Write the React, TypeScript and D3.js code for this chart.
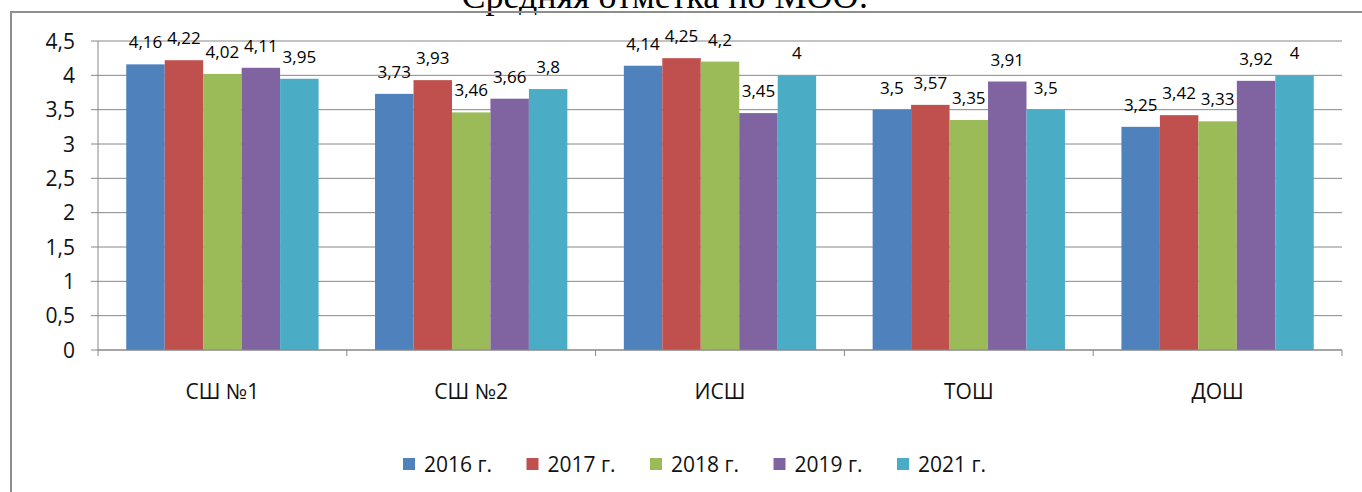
import React from "react";
import * as d3 from "d3";

const schools = ["СШ №1", "СШ №2", "ИСШ", "ТОШ", "ДОШ"];
const years = ["2016 г.", "2017 г.", "2018 г.", "2019 г.", "2021 г."];
const y2016 = [4.16, 3.73, 4.14, 3.5, 3.25];
const y2017 = [4.22, 3.93, 4.25, 3.57, 3.42];
const y2018 = [4.02, 3.46, 4.2, 3.35, 3.33];
const y2019 = [4.11, 3.66, 3.45, 3.91, 3.92];
const y2021 = [3.95, 3.8, 4, 3.5, 4];
const yTicks = [0, 0.5, 1, 1.5, 2, 2.5, 3, 3.5, 4, 4.5];
const colors = ["#4F81BD", "#C0504D", "#9BBB59", "#8064A2", "#4BACC6"];

const W = 1362;
const H = 492;
const sans = "'Open Sans', 'Liberation Sans', sans-serif";
const fmt = (v: number) => String(v).replace(".", ",");

export default function App() {
  const series = [y2016, y2017, y2018, y2019, y2021];
  const plot = { left: 98, right: 1342, top: 41, bottom: 350 };

  const x0 = d3.scaleBand<string>()
    .domain(schools)
    .range([plot.left, plot.right])
    .paddingInner(0.227)
    .paddingOuter(0.1135);
  const x1 = d3.scaleBand<string>()
    .domain(years)
    .range([0, x0.bandwidth()]);
  const y = d3.scaleLinear().domain([0, 4.5]).range([plot.bottom, plot.top]);

  const step = x0.step();
  const boundaries = d3.range(schools.length + 1).map(i => plot.left + i * step);

  return (
    <svg width={W} height={H} style={{ position: "absolute", left: 0, top: 0 }}>
      <rect width={W} height={H} fill="#fff" />
      {/* heading of the document, cut off at the top like in the source */}
      <text x={665} y={8} textAnchor="middle" fontFamily="'Liberation Serif', 'Times New Roman', serif" fontSize={36} fill="#000">
        Средняя отметка по МОО:
      </text>
      {/* chart frame */}
      <path d={`M11,${H} V12 H${W}`} fill="none" stroke="#8e8e8e" strokeWidth={2} />

      {/* grid + y axis */}
      {yTicks.map(t => (
        <g key={t}>
          <line x1={plot.left} x2={plot.right} y1={y(t)} y2={y(t)} stroke="#888" strokeWidth={1} />
          <line x1={91} x2={plot.left} y1={y(t)} y2={y(t)} stroke="#888" strokeWidth={1} />
          <text x={75} y={y(t)} dy="0.36em" textAnchor="end" fontFamily={sans} fontSize={21} fill="#111">
            {fmt(t)}
          </text>
        </g>
      ))}
      <line x1={plot.left} x2={plot.left} y1={plot.top} y2={plot.bottom} stroke="#888" />

      {/* bars */}
      {schools.map((s, i) => (
        <g key={s} transform={`translate(${x0(s)},0)`}>
          {series.map((vals, j) => (
            <rect
              key={years[j]}
              x={x1(years[j])}
              y={y(vals[i])}
              width={x1.bandwidth()}
              height={y(0) - y(vals[i])}
              fill={colors[j]}
            />
          ))}
          {series.map((vals, j) => (
            <text
              key={"l" + years[j]}
              x={(x1(years[j]) ?? 0) + x1.bandwidth() / 2}
              y={y(vals[i]) - 16}
              textAnchor="middle"
              fontFamily={sans}
              fontSize={17}
              fill="#000"
            >
              {fmt(vals[i])}
            </text>
          ))}
        </g>
      ))}

      {/* x axis */}
      <line x1={plot.left} x2={plot.right} y1={plot.bottom} y2={plot.bottom} stroke="#888" />
      {boundaries.map(b => (
        <line key={b} x1={b} x2={b} y1={plot.bottom} y2={plot.bottom + 6} stroke="#888" />
      ))}
      {schools.map(s => (
        <text key={s} x={(x0(s) ?? 0) + x0.bandwidth() / 2} y={391} dy="0.36em" textAnchor="middle" fontFamily={sans} fontSize={21} fill="#111">
          {s}
        </text>
      ))}

      {/* legend */}
      {years.map((yr, j) => (
        <g key={yr} transform={`translate(${403 + j * 123.5},458)`}>
          <rect width={12} height={12} fill={colors[j]} />
          <text x={21} y={6} dy="0.36em" fontFamily={sans} fontSize={21} fill="#111">
            {yr}
          </text>
        </g>
      ))}
    </svg>
  );
}
